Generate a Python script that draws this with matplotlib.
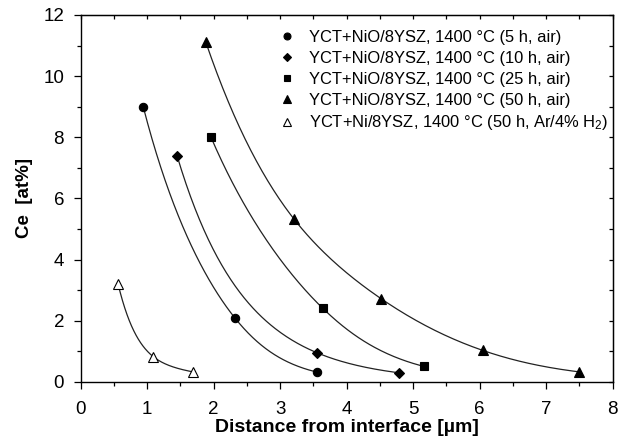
import matplotlib
matplotlib.use("Agg")
import matplotlib.pyplot as plt
from matplotlib.lines import Line2D
import numpy as np

plt.rcParams['font.family'] = ['Liberation Sans', 'DejaVu Sans']
plt.rcParams['mathtext.fontset'] = 'custom'
plt.rcParams['mathtext.rm'] = 'Liberation Sans'
plt.rcParams['mathtext.it'] = 'Liberation Sans'

# Daten
x_5h = [0.94, 2.32, 3.56]
ce_5h = [9.0, 2.09, 0.32]
x_10h = [1.45, 3.56, 4.79]
ce_10h = [7.39, 0.95, 0.30]
x_25h = [1.96, 3.64, 5.16]
ce_25h = [8.0, 2.41, 0.51]
x_50h = [1.88, 3.21, 4.52, 6.05, 7.50]
ce_50h = [11.12, 5.32, 2.72, 1.03, 0.33]
x_h2 = [0.56, 1.09, 1.69]
ce_h2 = [3.22, 0.83, 0.33]

labels = [
    "YCT+NiO/8YSZ, 1400 °C (5 h, air)",
    "YCT+NiO/8YSZ, 1400 °C (10 h, air)",
    "YCT+NiO/8YSZ, 1400 °C (25 h, air)",
    "YCT+NiO/8YSZ, 1400 °C (50 h, air)",
    "YCT+Ni/8YSZ, 1400 °C (50 h, Ar/4% H$_2$)",
]


def natural_spline(x, y, n=200):
    # natuerlicher kubischer Spline durch alle Punkte
    x = np.asarray(x, float)
    y = np.asarray(y, float)
    k = len(x)
    h = np.diff(x)
    A = np.zeros((k, k))
    b = np.zeros(k)
    A[0, 0] = A[-1, -1] = 1
    for i in range(1, k - 1):
        A[i, i - 1] = h[i - 1]
        A[i, i] = 2 * (h[i - 1] + h[i])
        A[i, i + 1] = h[i]
        b[i] = 6 * ((y[i + 1] - y[i]) / h[i] - (y[i] - y[i - 1]) / h[i - 1])
    M = np.linalg.solve(A, b)
    xs = np.linspace(x[0], x[-1], n)
    idx = np.clip(np.searchsorted(x, xs) - 1, 0, k - 2)
    t0 = x[idx]
    t1 = x[idx + 1]
    hh = t1 - t0
    ys = (M[idx] * (t1 - xs) ** 3 / (6 * hh) + M[idx + 1] * (xs - t0) ** 3 / (6 * hh)
          + (y[idx] / hh - M[idx] * hh / 6) * (t1 - xs)
          + (y[idx + 1] / hh - M[idx + 1] * hh / 6) * (xs - t0))
    return xs, ys


def smooth(x, y):
    # Spline im log-Raum, damit die Kurve abklingt
    xs, ly = natural_spline(x, np.log(y))
    return xs, np.exp(ly)


fig = plt.figure(figsize=(6.19, 4.46), dpi=100)
ax = fig.add_axes([0.1304, 0.1435, 0.8594, 0.8229])

series = [
    (x_5h, ce_5h, 'o', 'black', 6),
    (x_10h, ce_10h, 'D', 'black', 5.5),
    (x_25h, ce_25h, 's', 'black', 5.5),
    (x_50h, ce_50h, '^', 'black', 6.5),
    (x_h2, ce_h2, '^', 'white', 6.5),
]

handles = []
for (xv, yv, m, fc, ms), lab in zip(series, labels):
    xs, ys = smooth(xv, yv)
    ax.plot(xs, ys, color='#222222', lw=0.9, zorder=2)
    ax.plot(xv, yv, linestyle='none', marker=m, markersize=ms,
            markerfacecolor=fc, markeredgecolor='black', markeredgewidth=0.8, zorder=3)
    handles.append(Line2D([], [], linestyle='none', marker=m, markersize=ms - 1,
                          markerfacecolor=fc, markeredgecolor='black',
                          markeredgewidth=0.8, label=lab))

ax.set_xlim(0, 8)
ax.set_ylim(0, 12)
ax.set_xticks(np.arange(0, 9, 1))
ax.set_xticks(np.arange(0, 8.5, 0.5), minor=True)
ax.set_yticks(np.arange(0, 13, 2))
ax.set_yticks(np.arange(0, 13, 1), minor=True)
ax.tick_params(axis='both', which='both', direction='out', labelsize=13.5,
               top=False, right=False)
ax.tick_params(which='major', length=5, width=0.9)
ax.tick_params(which='minor', length=3, width=0.9)
ax.tick_params(axis='x', which='major', pad=8.5)
ax.tick_params(axis='y', which='major', pad=7)

# innen liegende Striche oben und rechts
sec_x = ax.secondary_xaxis('top')
sec_x.set_xticks(np.arange(0, 9, 1))
sec_x.set_xticks(np.arange(0, 8.5, 0.5), minor=True)
sec_x.tick_params(which='both', direction='in', labeltop=False, length=3, width=0.9)
sec_y = ax.secondary_yaxis('right')
sec_y.set_yticks(np.arange(0, 13, 2))
sec_y.set_yticks(np.arange(0, 13, 1), minor=True)
sec_y.tick_params(which='both', direction='in', labelright=False, length=3, width=0.9)

for s in ax.spines.values():
    s.set_linewidth(1.0)

ax.set_xlabel("Distance from interface [µm]", fontsize=14, fontweight='bold', labelpad=1)
ax.set_ylabel("Ce  [at%]", fontsize=13.5, fontweight='bold', labelpad=7)

ax.legend(handles=handles, loc='upper left', bbox_to_anchor=(0.36, 0.978),
          frameon=False, fontsize=11.9, handlelength=1.0, handletextpad=0.8,
          labelspacing=0.36, borderaxespad=0)

fig.savefig("out.png", dpi=100)
